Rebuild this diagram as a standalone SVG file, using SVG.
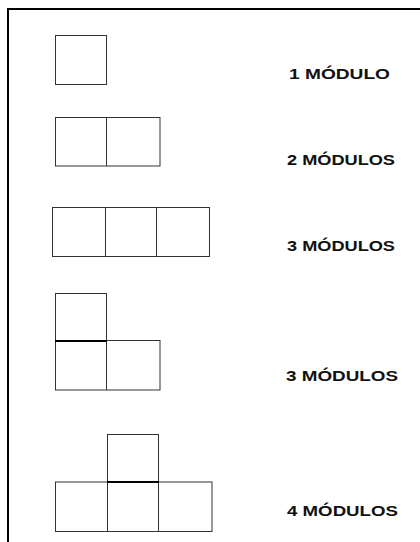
<svg xmlns="http://www.w3.org/2000/svg" width="420" height="542" viewBox="0 0 420 542">
<style>
.b{fill:none;stroke:#333;stroke-width:1}
.t{font-family:"Liberation Sans",Arial,sans-serif;font-size:15px;font-weight:bold;fill:#111}
.k{stroke:#000;stroke-width:2}
</style>
<rect width="420" height="542" fill="#fff"/>
<g id="frame"><path d="M8,542 V9 H420" fill="none" stroke="#000" stroke-width="2"/></g>
<g id="m1">
<rect class="b" x="55.5" y="35.5" width="51" height="49"/>
<text class="t" x="289" y="79" textLength="101" lengthAdjust="spacingAndGlyphs">1 MÓDULO</text>
</g>
<g id="m2">
<rect class="b" x="55.5" y="117.5" width="104.5" height="48.5"/>
<line class="b" x1="106.5" y1="117.5" x2="106.5" y2="166"/>
<text class="t" x="287" y="165" textLength="108" lengthAdjust="spacingAndGlyphs">2 MÓDULOS</text>
</g>
<g id="m3">
<rect class="b" x="52.5" y="207.5" width="157" height="49"/>
<line class="b" x1="105.5" y1="207.5" x2="105.5" y2="256.5"/>
<line class="b" x1="156.5" y1="207.5" x2="156.5" y2="256.5"/>
<text class="t" x="287" y="251" textLength="108" lengthAdjust="spacingAndGlyphs">3 MÓDULOS</text>
</g>
<g id="m3L">
<rect class="b" x="55.5" y="293.5" width="51" height="47"/>
<rect class="b" x="55.5" y="340.5" width="104.5" height="49.5"/>
<line class="b" x1="106.5" y1="340.5" x2="106.5" y2="390"/>
<line class="k" x1="55" y1="341" x2="107" y2="341"/>
<text class="t" x="286" y="381" textLength="112" lengthAdjust="spacingAndGlyphs">3 MÓDULOS</text>
</g>
<g id="m4">
<rect class="b" x="107.5" y="434.5" width="51" height="47.5"/>
<rect class="b" x="55.5" y="482" width="156.5" height="49.5"/>
<line class="b" x1="107.5" y1="482" x2="107.5" y2="531.5"/>
<line class="b" x1="158.5" y1="482" x2="158.5" y2="531.5"/>
<line class="k" x1="107" y1="482" x2="159" y2="482"/>
<text class="t" x="287" y="516" textLength="111" lengthAdjust="spacingAndGlyphs">4 MÓDULOS</text>
</g>
<g id="connectors"></g>
</svg>
